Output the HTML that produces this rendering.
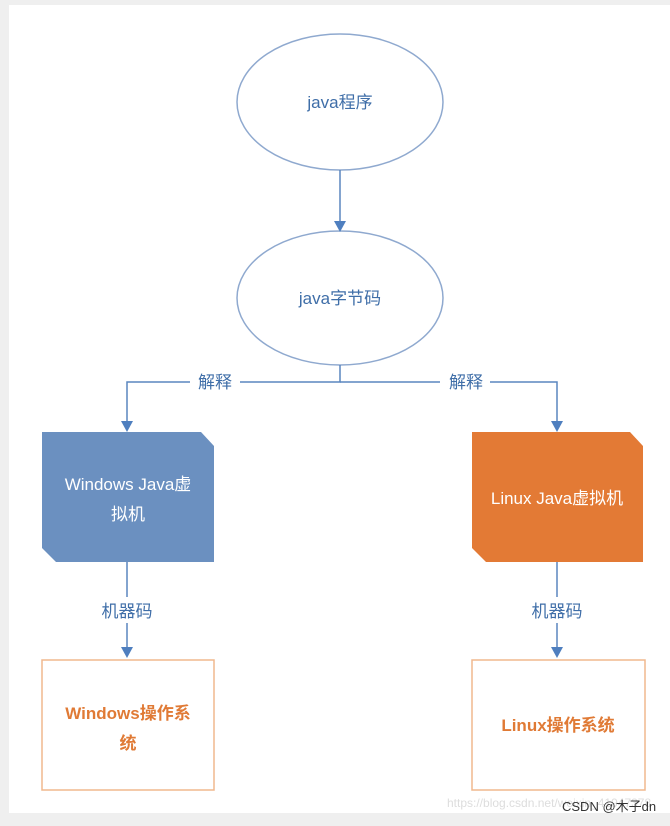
<!DOCTYPE html>
<html><head><meta charset="utf-8"><style>
body{margin:0;width:670px;height:826px;background:#efefef;overflow:hidden}
svg{display:block}
text{font-family:"Liberation Sans","Noto Sans CJK SC",sans-serif}
</style></head><body>
<svg width="670" height="826" viewBox="0 0 670 826">
<rect x="9" y="5" width="661" height="808" fill="#fff"/>
<g stroke="#5a86bf" stroke-width="1.5" fill="none">
<ellipse cx="340" cy="102" rx="103" ry="68" stroke="#8fa9cf"/>
<ellipse cx="340" cy="298" rx="103" ry="67" stroke="#8fa9cf"/>
<line x1="340" y1="170" x2="340" y2="222"/>
<polyline points="340,365 340,382 127,382 127,424"/>
<polyline points="340,382 557,382 557,424"/>
<line x1="127" y1="562" x2="127" y2="650"/>
<line x1="557" y1="562" x2="557" y2="650"/>
</g>
<g fill="#4f7fbf">
<polygon points="334,221 346,221 340,232"/>
<polygon points="121,421 133,421 127,432"/>
<polygon points="551,421 563,421 557,432"/>
<polygon points="121,647 133,647 127,658"/>
<polygon points="551,647 563,647 557,658"/>
</g>
<rect x="190" y="370" width="50" height="22" fill="#fff"/>
<rect x="440" y="370" width="50" height="22" fill="#fff"/>
<rect x="80" y="597" width="90" height="26" fill="#fff"/>
<rect x="512" y="597" width="90" height="26" fill="#fff"/>
<polygon points="42,432 201,432 214,446 214,562 56,562 42,548" fill="#6b90c0"/>
<polygon points="472,432 630,432 643,446 643,562 486,562 472,548" fill="#e37a35"/>
<rect x="42" y="660" width="172" height="130" fill="#fff" stroke="#f0b88e" stroke-width="1.5"/>
<rect x="472" y="660" width="173" height="130" fill="#fff" stroke="#f0b88e" stroke-width="1.5"/>
<g font-size="17" fill="#3f6ea8" text-anchor="middle">
<text x="340" y="108">java程序</text>
<text x="340" y="304">java字节码</text>
<text x="215" y="388">解释</text>
<text x="466" y="388">解释</text>
<text x="127" y="617">机器码</text>
<text x="557" y="617">机器码</text>
</g>
<g font-size="17" fill="#fff" text-anchor="middle">
<text x="128" y="490">Windows Java虚</text>
<text x="128" y="520">拟机</text>
<text x="557" y="504">Linux Java虚拟机</text>
</g>
<g font-size="17" fill="#e07a35" text-anchor="middle" font-weight="bold">
<text x="128" y="719">Windows操作系</text>
<text x="128" y="749">统</text>
<text x="558" y="731">Linux操作系统</text>
</g>
<text x="447" y="807" font-size="12" fill="#ddd">https://blog.csdn.net/weixin_41947378</text>
<text x="562" y="811" font-size="13" fill="#333">CSDN @木子dn</text>
</svg>
</body></html>
